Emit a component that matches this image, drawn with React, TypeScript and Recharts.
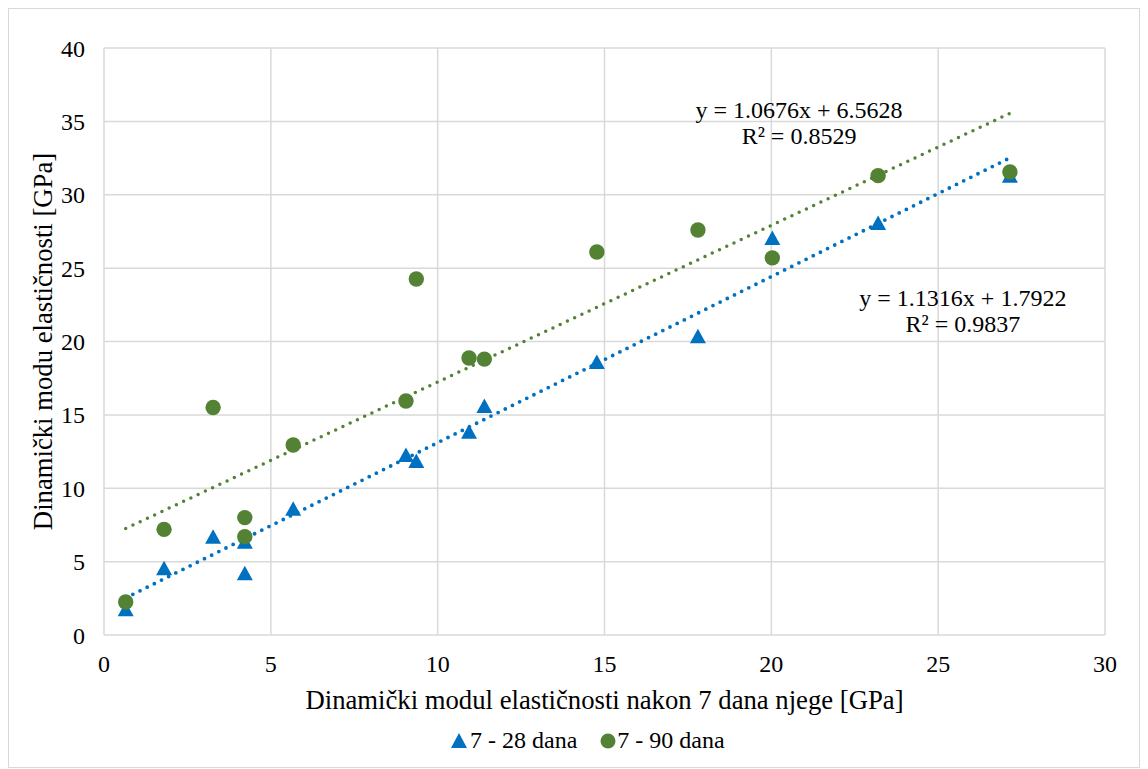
import {
  ScatterChart, Scatter, XAxis, YAxis, CartesianGrid,
  ReferenceLine, ReferenceDot, Legend
} from 'recharts';

// x = modul nakon 7 dana, y = nakon 28 / 90 dana (GPa)
const xValues = [0.65, 1.8, 3.27, 4.22, 4.22, 5.67, 9.05, 9.36, 10.94, 11.4, 14.77, 17.8, 20.03, 23.2, 27.15];
const y28Values = [1.75, 4.55, 6.7, 6.35, 4.2, 8.6, 12.27, 11.86, 13.85, 15.6, 18.6, 20.35, 27.05, 28.07, 31.3];
const y90Values = [2.25, 7.2, 15.5, 8.0, 6.7, 12.95, 15.95, 24.26, 18.88, 18.8, 26.1, 27.6, 25.7, 31.3, 31.55];

const seriesNames = ['7 - 28 dana', '7 - 90 dana'];
const trendSlopes = [1.1316, 1.0676];
const trendIntercepts = [1.7922, 6.5628];
const trendR2 = [0.9837, 0.8529];

const xTicks = [0, 5, 10, 15, 20, 25, 30];
const yTicks = [0, 5, 10, 15, 20, 25, 30, 35, 40];

const BLUE = '#0070C0';
const GREEN = '#548235';
const GRID = '#d9d9d9';
const FONT = '"Liberation Serif", "Times New Roman", serif';

const data28 = xValues.map((x, i) => ({ x, y: y28Values[i] }));
const data90 = xValues.map((x, i) => ({ x, y: y90Values[i] }));

const xMin = Math.min(...xValues);
const xMax = Math.max(...xValues);
const trendSegment = (k: number) => [
  { x: xMin, y: trendSlopes[k] * xMin + trendIntercepts[k] },
  { x: xMax, y: trendSlopes[k] * xMax + trendIntercepts[k] },
];

const Triangle = (props: any) => {
  const { cx, cy } = props;
  return <polygon points={`${cx},${cy - 7.5} ${cx + 8},${cy + 7} ${cx - 8},${cy + 7}`} fill={BLUE} />;
};

const Circle = (props: any) => {
  const { cx, cy } = props;
  return <circle cx={cx} cy={cy} r={7.7} fill={GREEN} />;
};

const EqLabel = (props: any) => {
  const { viewBox, k } = props;
  const cx = viewBox.x + viewBox.width / 2;
  const cy = viewBox.y + viewBox.height / 2;
  const lines = [
    `y = ${trendSlopes[k].toFixed(4)}x + ${trendIntercepts[k].toFixed(4)}`,
    `R² = ${trendR2[k].toFixed(4)}`,
  ];
  return (
    <g>
      {lines.map((t, i) => (
        <text key={i} x={cx} y={cy + 8 + i * 26} textAnchor="middle"
          fontFamily={FONT} fontSize={24} fill="#000">{t}</text>
      ))}
    </g>
  );
};

const XTitle = (props: any) => {
  const { viewBox } = props;
  return (
    <text x={viewBox.x + viewBox.width / 2} y={viewBox.y + 74} textAnchor="middle"
      fontFamily={FONT} fontSize={26.7} fill="#000">
      Dinamički modul elastičnosti nakon 7 dana njege [GPa]
    </text>
  );
};

const YTitle = (props: any) => {
  const { viewBox } = props;
  const x = viewBox.x + 43;
  const y = viewBox.y + viewBox.height / 2;
  return (
    <text x={x} y={y} transform={`rotate(-90 ${x} ${y})`} textAnchor="middle"
      fontFamily={FONT} fontSize={26.7} fill="#000">
      Dinamički modu elastičnosti [GPa]
    </text>
  );
};

const LegendContent = () => (
  <div style={{ display: 'flex', alignItems: 'center', fontFamily: FONT, fontSize: 24, color: '#000', whiteSpace: 'nowrap' }}>
    <svg width={16} height={15}><polygon points="8,0 16,15 0,15" fill={BLUE} /></svg>
    <span style={{ marginLeft: 3 }}>{seriesNames[0]}</span>
    <svg width={16} height={16} style={{ marginLeft: 23 }}><circle cx={8} cy={8} r={7.5} fill={GREEN} /></svg>
    <span style={{ marginLeft: 1 }}>{seriesNames[1]}</span>
  </div>
);

export default function App() {
  return (
    <div style={{ width: 1130, height: 758, border: `1px solid ${GRID}`, background: '#fff' }}>
      <ScatterChart width={1130} height={758} margin={{ top: 39, right: 34, left: 0, bottom: 52 }}
        style={{ fontFamily: FONT }}>
        <CartesianGrid stroke={GRID} strokeWidth={1.5} />
        <XAxis type="number" dataKey="x" domain={[0, 30]} ticks={xTicks} height={80}
          axisLine={false} tickLine={false} tickSize={0} tickMargin={20}
          tick={{ fontSize: 24, fill: '#000', fontFamily: FONT }}
          label={<XTitle />} />
        <YAxis type="number" dataKey="y" domain={[0, 40]} ticks={yTicks} width={95}
          axisLine={false} tickLine={false} tickSize={0} tickMargin={19}
          tick={{ fontSize: 24, fill: '#000', fontFamily: FONT }}
          label={<YTitle />} />
        <ReferenceLine segment={trendSegment(0)} stroke={BLUE} strokeWidth={3.8}
          strokeDasharray="0 8" strokeLinecap="round" />
        <ReferenceLine segment={trendSegment(1)} stroke={GREEN} strokeWidth={3.5}
          strokeDasharray="0 8" strokeLinecap="round" />
        <Scatter name={seriesNames[0]} data={data28} shape={<Triangle />} isAnimationActive={false} />
        <Scatter name={seriesNames[1]} data={data90} shape={<Circle />} isAnimationActive={false} />
        <ReferenceDot x={25.74} y={22.96} r={0} stroke="none" label={<EqLabel k={0} />} />
        <ReferenceDot x={20.83} y={35.78} r={0} stroke="none" label={<EqLabel k={1} />} />
        <Legend layout="horizontal" verticalAlign="middle" align="center" content={<LegendContent />}
          wrapperStyle={{ left: 442, top: 718, width: 320, height: 30 }} />
      </ScatterChart>
    </div>
  );
}
